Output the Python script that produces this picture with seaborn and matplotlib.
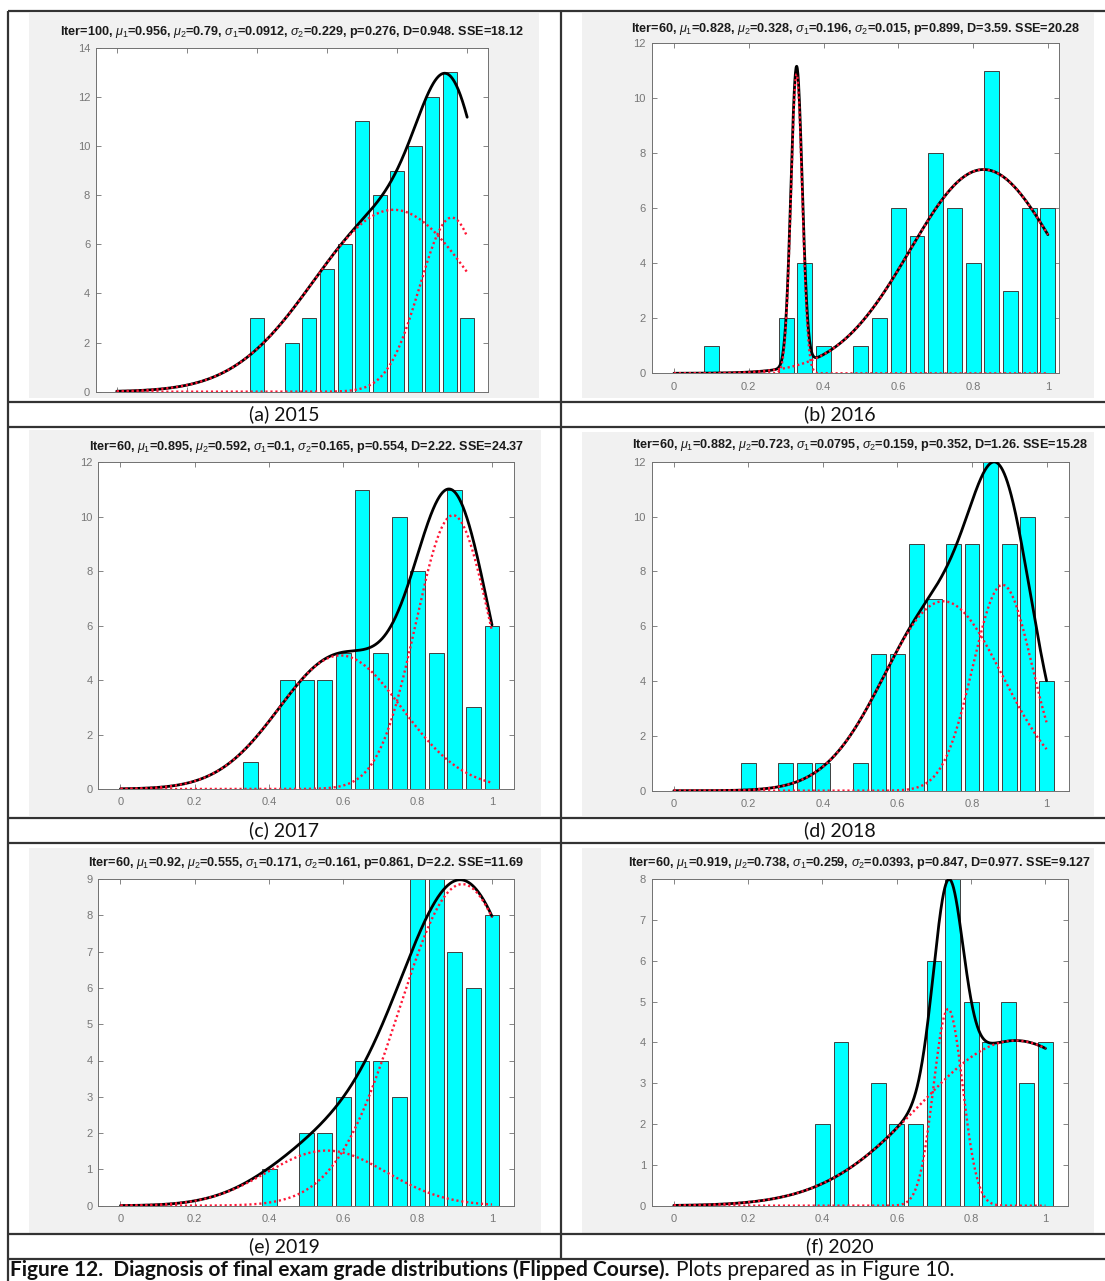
import numpy as np
import pandas as pd
import seaborn as sns
import matplotlib
matplotlib.use("Agg")
import matplotlib.pyplot as plt
from matplotlib.lines import Line2D
from matplotlib.patches import Rectangle
from matplotlib.transforms import Bbox

# ---------------------------------------------------------------------------
# Histogram data: bin centres (normalised grade) and student counts per year
# ---------------------------------------------------------------------------
bins_2015 = [0.40, 0.50, 0.55, 0.60, 0.65, 0.70, 0.75, 0.80, 0.85, 0.90, 0.95, 1.00]
counts_2015 = [3, 2, 3, 5, 6, 11, 8, 9, 10, 12, 13, 3]

bins_2016 = [0.10, 0.30, 0.35, 0.40, 0.50, 0.55, 0.60, 0.65, 0.70, 0.75, 0.80, 0.85, 0.90, 0.95, 1.00]
counts_2016 = [1, 2, 4, 1, 1, 2, 6, 5, 8, 6, 4, 11, 3, 6, 6]

bins_2017 = [0.35, 0.45, 0.50, 0.55, 0.60, 0.65, 0.70, 0.75, 0.80, 0.85, 0.90, 0.95, 1.00]
counts_2017 = [1, 4, 4, 4, 5, 11, 5, 10, 8, 5, 11, 3, 6]

bins_2018 = [0.20, 0.30, 0.35, 0.40, 0.50, 0.55, 0.60, 0.65, 0.70, 0.75, 0.80, 0.85, 0.90, 0.95, 1.00]
counts_2018 = [1, 1, 1, 1, 1, 5, 5, 9, 7, 9, 9, 12, 9, 10, 4]

bins_2019 = [0.40, 0.50, 0.55, 0.60, 0.65, 0.70, 0.75, 0.80, 0.85, 0.90, 0.95, 1.00]
counts_2019 = [1, 2, 2, 3, 4, 4, 3, 9, 9, 7, 6, 8]

bins_2020 = [0.40, 0.45, 0.55, 0.60, 0.65, 0.70, 0.75, 0.80, 0.85, 0.90, 0.95, 1.00]
counts_2020 = [2, 4, 3, 2, 2, 6, 8, 5, 4, 5, 3, 4]

years = [2015, 2016, 2017, 2018, 2019, 2020]
panel_tags = ["(a)", "(b)", "(c)", "(d)", "(e)", "(f)"]
bins_all = [bins_2015, bins_2016, bins_2017, bins_2018, bins_2019, bins_2020]
counts_all = [counts_2015, counts_2016, counts_2017, counts_2018, counts_2019, counts_2020]

# Two-component Gaussian mixture fitted to each year
iters = [100, 60, 60, 60, 60, 60]
mu1 = [0.956, 0.828, 0.895, 0.882, 0.92, 0.919]
mu2 = [0.79, 0.328, 0.592, 0.723, 0.555, 0.738]
sigma1 = [0.0912, 0.196, 0.1, 0.0795, 0.171, 0.259]
sigma2 = [0.229, 0.015, 0.165, 0.159, 0.161, 0.0393]
p_mix = [0.276, 0.899, 0.554, 0.352, 0.861, 0.847]
D_stat = [0.948, 3.59, 2.22, 1.26, 2.2, 0.977]
sse = [18.12, 20.28, 24.37, 15.28, 11.69, 9.127]
# count scale applied to the mixture density when overlaid on the histogram
curve_scale = [5.87, 4.05, 4.55, 4.25, 4.41, 3.10]

y_max = [14, 12, 12, 12, 9, 8]
y_step = [2, 2, 2, 2, 1, 1]
x_ticks = [0, 0.2, 0.4, 0.6, 0.8, 1.0]
x_tick_labels = ["0", "0.2", "0.4", "0.6", "0.8", "1"]

# ---------------------------------------------------------------------------
# Page geometry (pixels, origin top-left)
# ---------------------------------------------------------------------------
W, H = 1105, 1281
axes_px = [
    (95.7, 47.7, 488.2, 391.7),
    (651.5, 43.3, 1059.1, 373.3),
    (98.2, 462.3, 514.3, 789.0),
    (651.5, 461.7, 1068.9, 790.7),
    (98.2, 879.0, 514.3, 1205.7),
    (651.5, 879.0, 1067.8, 1205.7),
]
shot_px = [
    (28.6, 13.3, 539.3, 398.3),
    (582.4, 13.3, 1094.0, 398.3),
    (28.6, 430.0, 541.0, 816.0),
    (582.4, 431.7, 1094.0, 816.0),
    (28.6, 848.0, 541.0, 1232.7),
    (582.4, 848.0, 1094.0, 1232.7),
]
title_y = [32.3, 29.3, 446.7, 445.0, 863.3, 863.3]
x_right = [1.06, 1.03, 1.06, 1.06, 1.06, 1.06]
show_xlabels = [False, True, True, True, True, True]

row_lines = [11, 402, 427, 818, 843, 1234, 1259]
col_left, col_mid = 8, 560.7
caption_y = [414.5, 830.5, 1246.5]
caption_x = [284.0, 840.0]

sns.set_theme(style="white")
plt.rcParams["font.family"] = ["Liberation Sans", "DejaVu Sans"]
plt.rcParams["mathtext.fontset"] = "custom"
plt.rcParams["mathtext.rm"] = "Liberation Sans"
plt.rcParams["mathtext.it"] = "Liberation Sans:italic"
plt.rcParams["mathtext.bf"] = "Liberation Sans:bold"

fig = plt.figure(figsize=(W / 100, H / 100), dpi=100, facecolor="white")

# full-page layer for the table rules, screenshot backgrounds and captions
page = fig.add_axes([0, 0, 1, 1], zorder=0)
page.set_xlim(0, W)
page.set_ylim(H, 0)
page.axis("off")

rule_kw = dict(color="#333333", lw=1.6, solid_capstyle="butt")
for yy in row_lines:
    page.add_line(Line2D([col_left, W], [yy, yy], **rule_kw))
page.add_line(Line2D([col_left, col_left], [row_lines[0], H], **rule_kw))
page.add_line(Line2D([col_mid, col_mid], [row_lines[0], row_lines[-1]], **rule_kw))

for (x0, y0, x1, y1) in shot_px:
    page.add_patch(Rectangle((x0, y0), x1 - x0, y1 - y0, facecolor="#f1f1f1",
                             edgecolor="none", zorder=0))

cap_font = ["Lato", "DejaVu Sans"]
for k, (tag, yr) in enumerate(zip(panel_tags, years)):
    page.text(caption_x[k % 2], caption_y[k // 2], f"{tag} {yr}", ha="center",
              va="center", fontsize=14, family=cap_font, color="#111111")

# figure caption: bold lead-in followed by a plain sentence
cap_base = 1276.3
bold_part = page.text(10, cap_base, "Figure 12.  Diagnosis of final exam grade distributions (Flipped Course).",
                      ha="left", va="baseline", fontsize=15, fontweight="bold",
                      family=cap_font, color="#111111")
renderer = fig.canvas.get_renderer()
bb = bold_part.get_window_extent(renderer=renderer)
page.text(bb.x1 + 6, cap_base, "Plots prepared as in Figure 10.", ha="left", va="baseline",
          fontsize=15, family=cap_font, color="#111111")

red = "#ff1535"
xs = np.linspace(0.0, 1.0, 1201)

for k in range(6):
    x0, y0, x1, y1 = axes_px[k]
    ax = fig.add_axes([x0 / W, 1 - y1 / H, (x1 - x0) / W, (y1 - y0) / H], zorder=2)
    ax.set_facecolor("white")

    hist = pd.DataFrame({"grade": bins_all[k], "count": counts_all[k]})
    sns.barplot(data=hist, x="grade", y="count", native_scale=True, width=0.8,
                color="#00ffff", saturation=1, edgecolor="#404040", linewidth=0.7,
                errorbar=None, ax=ax)

    pdf1 = np.exp(-0.5 * ((xs - mu1[k]) / sigma1[k]) ** 2) / (sigma1[k] * np.sqrt(2 * np.pi))
    pdf2 = np.exp(-0.5 * ((xs - mu2[k]) / sigma2[k]) ** 2) / (sigma2[k] * np.sqrt(2 * np.pi))
    comp1 = curve_scale[k] * p_mix[k] * pdf1
    comp2 = curve_scale[k] * (1 - p_mix[k]) * pdf2
    curves = pd.DataFrame({"x": xs, "mix": comp1 + comp2, "c1": comp1, "c2": comp2})

    sns.lineplot(data=curves, x="x", y="mix", color="black", lw=2.0, ax=ax, zorder=3)
    for col in ("c1", "c2"):
        sns.lineplot(data=curves, x="x", y=col, color=red, lw=1.7, ax=ax, zorder=4,
                     linestyle=(0, (0.9, 1.2)))

    ax.set_xlim(-0.06, x_right[k])
    ax.set_ylim(0, y_max[k])
    ax.set_xticks(x_ticks)
    ax.set_xticklabels(x_tick_labels if show_xlabels[k] else [])
    yt = list(range(0, y_max[k] + 1, y_step[k]))
    ax.set_yticks(yt)
    ax.set_yticklabels([str(v) for v in yt])
    ax.set_xlabel("")
    ax.set_ylabel("")
    for side in ax.spines.values():
        side.set_color("#707070")
        side.set_linewidth(0.7)
    ax.tick_params(direction="in", length=3.5, width=0.6, color="#707070",
                   labelcolor="#777777", labelsize=8, top=True, right=True,
                   bottom=True, left=True, pad=4)
    ax.tick_params(axis="x", pad=6)

    # title of the MATLAB-style panel, kept inside its screenshot frame
    title = (f"Iter={iters[k]}, $\\mu_1$={mu1[k]}, $\\mu_2$={mu2[k]}, "
             f"$\\sigma_1$={sigma1[k]}, $\\sigma_2$={sigma2[k]}, p={p_mix[k]}, "
             f"D={D_stat[k]}. SSE={sse[k]}")
    t = page.text((x0 + x1) / 2, title_y[k], title, ha="center", va="center",
                  fontsize=9.1, fontweight="bold", color="#1a1a1a", zorder=3)
    sx0, sy0, sx1, sy1 = shot_px[k]
    t.set_clip_box(Bbox.from_extents(sx0, H - sy1, sx1, H - sy0))
    t.set_clip_on(True)

fig.savefig("out.png", dpi=100, facecolor="white")
